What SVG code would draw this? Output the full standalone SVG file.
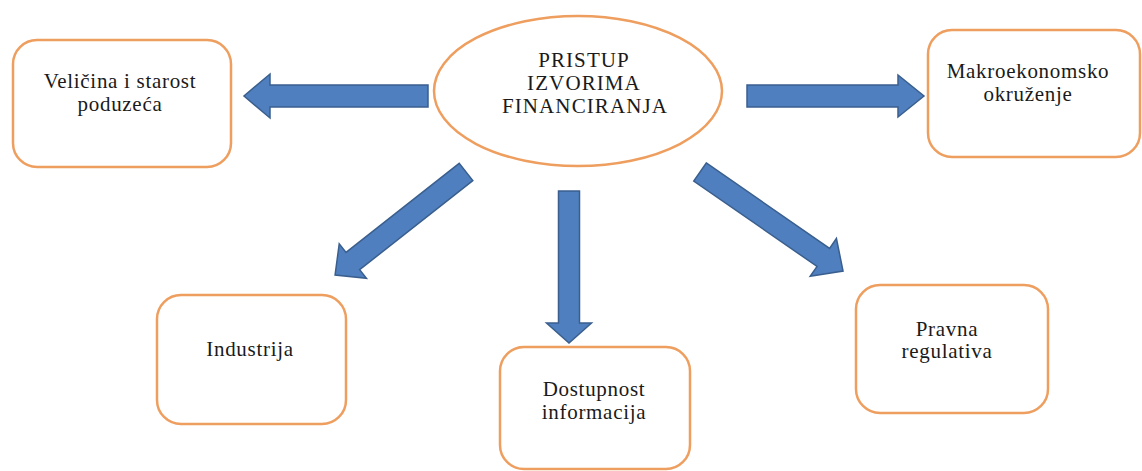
<svg xmlns="http://www.w3.org/2000/svg" width="1142" height="471" viewBox="0 0 1142 471">
  <style>
    .box { fill: #ffffff; stroke: #EE9E5E; stroke-width: 2.5; }
    .arrow { fill: #4F7FBF; stroke: #3A5F8E; stroke-width: 1.5; stroke-linejoin: miter; }
    text { font-family: 'Liberation Serif', 'DejaVu Serif', serif; font-size: 21px; fill: #1a1a1a; text-anchor: middle; letter-spacing: 0.7px; }
    .tc { letter-spacing: 1.1px; }
  </style>
  <rect width="1142" height="471" fill="#ffffff"/>

  <g id="connectors">
    <path class="arrow" transform="translate(428,96) rotate(180)" d="M0,-11 H158 V-22 L184,0 L158,22 V11 H0 Z"/>
    <path class="arrow" transform="translate(747,96)" d="M0,-11 H151 V-21 L177,0 L151,21 V11 H0 Z"/>
    <path class="arrow" transform="translate(569,191) rotate(90)" d="M0,-10.5 H132 V-22.5 L152,0 L132,22.5 V10.5 H0 Z"/>
    <path class="arrow" transform="translate(466,172) rotate(141.8)" d="M0,-11 H144 V-22 L166.6,0 L144,22 V11 H0 Z"/>
    <path class="arrow" transform="translate(700,172) rotate(34.7)" d="M0,-11 H150 V-23 L174,0 L150,23 V11 H0 Z"/>
  </g>

  <g id="center">
    <ellipse cx="578" cy="91" rx="144" ry="75" fill="#ffffff" stroke="#EE9E5E" stroke-width="2.5"/>
    <text class="tc" x="584" y="67">PRISTUP</text>
    <text class="tc" x="584" y="90">IZVORIMA</text>
    <text class="tc" x="585" y="113">FINANCIRANJA</text>
  </g>

  <g id="velicina">
    <rect class="box" x="13" y="40" width="218" height="127" rx="24"/>
    <text x="120" y="88">Veličina i starost</text>
    <text x="120" y="111">poduzeća</text>
  </g>

  <g id="makro">
    <rect class="box" x="928" y="30" width="212" height="127" rx="24"/>
    <text x="1028" y="78">Makroekonomsko</text>
    <text x="1028" y="101">okruženje</text>
  </g>

  <g id="industrija">
    <rect class="box" x="157" y="295" width="189" height="129" rx="24"/>
    <text x="250" y="356">Industrija</text>
  </g>

  <g id="dostupnost">
    <rect class="box" x="500" y="347" width="190" height="122" rx="24"/>
    <text x="594" y="396">Dostupnost</text>
    <text x="594" y="419">informacija</text>
  </g>

  <g id="pravna">
    <rect class="box" x="856" y="285" width="192" height="128" rx="24"/>
    <text x="947" y="336">Pravna</text>
    <text x="947" y="358">regulativa</text>
  </g>
</svg>
